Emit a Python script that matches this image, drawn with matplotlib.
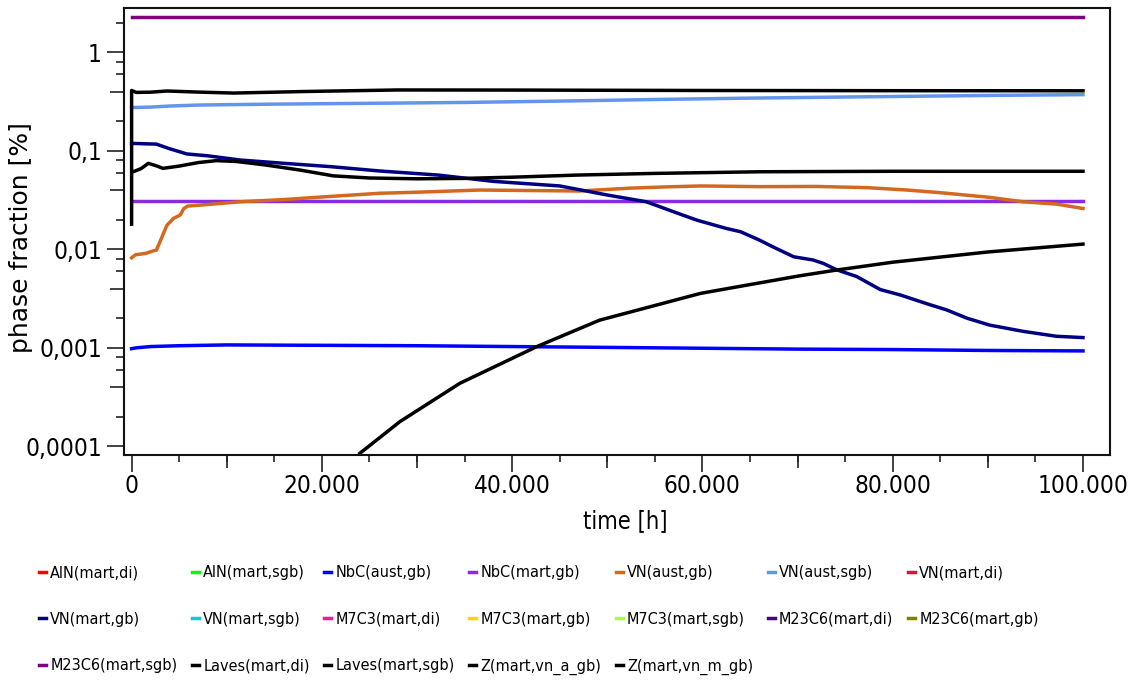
import os
import matplotlib
matplotlib.use("Agg")
import matplotlib.pyplot as plt
from matplotlib import font_manager as fm
from matplotlib.ticker import FixedLocator, FuncFormatter, NullFormatter


def narrow_font_file():
    """Return a regular-weight narrow/condensed sans font file if one is installed."""
    prefs = ["liberationsansnarrow-regular", "dejavusanscondensed.ttf",
             "condensed-regular", "narrow-regular", "semicondensed-regular"]
    files = sorted({f.fname for f in fm.fontManager.ttflist})
    for key in prefs:
        for fn in files:
            if key in os.path.basename(fn).lower():
                return fn
    return None


NARROW_FILE = narrow_font_file()


def narrow(size):
    if NARROW_FILE:
        return fm.FontProperties(fname=NARROW_FILE, size=size)
    return fm.FontProperties(family="DejaVu Sans", size=size * 0.9)


# ---- series (time in h, phase fraction in %) ----
labels = [
    "AlN(mart,di)", "AlN(mart,sgb)", "NbC(aust,gb)", "NbC(mart,gb)", "VN(aust,gb)",
    "VN(aust,sgb)", "VN(mart,di)", "VN(mart,gb)", "VN(mart,sgb)", "M7C3(mart,di)",
    "M7C3(mart,gb)", "M7C3(mart,sgb)", "M23C6(mart,di)", "M23C6(mart,gb)",
    "M23C6(mart,sgb)", "Laves(mart,di)", "Laves(mart,sgb)", "Z(mart,vn_a_gb)",
    "Z(mart,vn_m_gb)",
]
colors = [
    "#FF0000", "#00FF00", "#0000FF", "#8A2BE2", "#D2691E",
    "#6495ED", "#DC143C", "#000080", "#00CED1", "#FF1493",
    "#FFD700", "#ADFF2F", "#4B0082", "#808000",
    "#800080", "#000000", "#000000", "#000000",
    "#000000",
]

t_nbc_aust = [0, 500, 2000, 5000, 10000, 20000, 30000, 40000, 50000, 60000, 70000,
              80000, 90000, 100000]
v_nbc_aust = [0.00098, 0.001, 0.00103, 0.00105, 0.00107, 0.00106, 0.00105, 0.00103,
              0.00101, 0.00099, 0.00097, 0.00096, 0.00094, 0.00093]

t_nbc_mart = [0, 100000]
v_nbc_mart = [0.031, 0.031]

t_vn_aust_gb = [0, 400, 1500, 2200, 2600, 3200, 3700, 4400, 5100, 5500, 5900, 8000,
                11400, 16000, 20000, 26100, 30000, 36600, 42000, 47100, 52400, 56000,
                59800, 66000, 72000, 77300, 81500, 85000, 90200, 93700, 97200, 100000]
v_vn_aust_gb = [0.0082, 0.0088, 0.0091, 0.0096, 0.0098, 0.0134, 0.0175, 0.0206, 0.0223,
                0.026, 0.0275, 0.0285, 0.0304, 0.032, 0.034, 0.0371, 0.038, 0.040,
                0.0395, 0.0391, 0.0418, 0.043, 0.044, 0.0433, 0.0435, 0.0423, 0.040,
                0.0376, 0.0337, 0.0304, 0.0288, 0.026]

t_vn_aust_sgb = [0, 2000, 4000, 7200, 15000, 27000, 35000, 45000, 55000, 65000, 75000,
                 82000, 90000, 100000]
v_vn_aust_sgb = [0.275, 0.278, 0.285, 0.292, 0.298, 0.305, 0.31, 0.32, 0.332, 0.343,
                 0.352, 0.358, 0.365, 0.372]

t_vn_mart_gb = [0, 2600, 4000, 5800, 8000, 11400, 16000, 21000, 26100, 32200, 38000,
                45000, 50000, 54100, 57000, 59400, 62500, 64000, 66000, 67400, 69600,
                71600, 72700, 74100, 76200, 78700, 80800, 83600, 85700, 87800, 90200,
                93700, 97200, 100000]
v_vn_mart_gb = [0.119, 0.117, 0.105, 0.093, 0.089, 0.0807, 0.0747, 0.069, 0.0624,
                0.0568, 0.049, 0.044, 0.0356, 0.0304, 0.024, 0.0198, 0.0163, 0.0151,
                0.0124, 0.0106, 0.0084, 0.0078, 0.0072, 0.0062, 0.0053, 0.0039, 0.00344,
                0.0028, 0.00242, 0.002, 0.0017, 0.00147, 0.00131, 0.00127]

t_m23c6_sgb = [0, 100000]
v_m23c6_sgb = [2.27, 2.27]

t_laves_di = [0, 0, 500, 2000, 3700, 7000, 10700, 18000, 28000, 40000, 60000, 80000,
              100000]
v_laves_di = [0.018, 0.41, 0.392, 0.394, 0.405, 0.395, 0.386, 0.40, 0.415, 0.414, 0.41,
              0.408, 0.407]

t_laves_sgb = [100, 1000, 1750, 2500, 3300, 5000, 7000, 8900, 11000, 14000, 17700,
               21200, 25000, 30000, 35000, 40000, 47000, 55000, 66000, 80000, 100000]
v_laves_sgb = [0.061, 0.066, 0.0746, 0.071, 0.0664, 0.070, 0.076, 0.0795, 0.078, 0.072,
               0.0638, 0.0557, 0.053, 0.052, 0.0525, 0.054, 0.0568, 0.059, 0.0613,
               0.062, 0.062]

t_z_a = [24000, 28200, 34500, 42600, 49200, 59800, 63900, 70300, 74100, 80000, 90000,
         100000]
v_z_a = [8.5e-5, 1.78e-4, 4.36e-4, 1.03e-3, 1.91e-3, 3.57e-3, 4.2e-3, 5.4e-3, 6.16e-3,
         7.4e-3, 9.4e-3, 0.0113]

empty = ([], [])
series = {
    "AlN(mart,di)": empty,
    "AlN(mart,sgb)": empty,
    "NbC(aust,gb)": (t_nbc_aust, v_nbc_aust),
    "NbC(mart,gb)": (t_nbc_mart, v_nbc_mart),
    "VN(aust,gb)": (t_vn_aust_gb, v_vn_aust_gb),
    "VN(aust,sgb)": (t_vn_aust_sgb, v_vn_aust_sgb),
    "VN(mart,di)": empty,
    "VN(mart,gb)": (t_vn_mart_gb, v_vn_mart_gb),
    "VN(mart,sgb)": empty,
    "M7C3(mart,di)": empty,
    "M7C3(mart,gb)": empty,
    "M7C3(mart,sgb)": empty,
    "M23C6(mart,di)": empty,
    "M23C6(mart,gb)": empty,
    "M23C6(mart,sgb)": (t_m23c6_sgb, v_m23c6_sgb),
    "Laves(mart,di)": (t_laves_di, v_laves_di),
    "Laves(mart,sgb)": (t_laves_sgb, v_laves_sgb),
    "Z(mart,vn_a_gb)": (t_z_a, v_z_a),
    "Z(mart,vn_m_gb)": empty,
}

# ---- figure ----
W, H = 1131, 684
fig = plt.figure(figsize=(W / 100, H / 100), dpi=100)
L, R, T, B = 124, 1110, 8, 455
ax = fig.add_axes([L / W, 1 - B / H, (R - L) / W, (B - T) / H])

handles = []
for lab, col in zip(labels, colors):
    t, v = series[lab]
    ln, = ax.plot(t, v, color=col, lw=2.5, label=lab, solid_joinstyle="round")
    handles.append(ln)

ax.set_yscale("log")
ax.set_ylim(8.16e-5, 2.82)
ax.set_xlim(-800, 102840)

TICK_SIZE = 17.5

# x ticks: labelled every 20.000 h, medium every 10.000 h, small every 5.000 h
ax.xaxis.set_major_locator(FixedLocator([0, 20000, 40000, 60000, 80000, 100000]))
ax.xaxis.set_minor_locator(FixedLocator([5000 * k for k in range(21)]))
ax.xaxis.set_major_formatter(FuncFormatter(lambda v, p: f"{int(round(v)):,}".replace(",", ".")))
ax.tick_params(axis="x", which="major", length=12, width=1.2, pad=2, colors="#222222")
ax.tick_params(axis="x", which="minor", length=5, width=1.2, colors="#222222")
secx = ax.secondary_xaxis("bottom")
secx.set_xticks([10000, 30000, 50000, 70000, 90000])
secx.xaxis.set_major_formatter(NullFormatter())
secx.tick_params(length=9, width=1.2, colors="#222222")
secx.spines["bottom"].set_visible(False)

# y ticks: decades, with small marks at 2, 6, 8 and a medium mark at 4
decades = [1e-4, 1e-3, 1e-2, 1e-1, 1]
ax.yaxis.set_major_locator(FixedLocator(decades))
ax.yaxis.set_minor_locator(FixedLocator([m * d for d in [1e-5] + decades for m in (2, 6, 8)]))
ax.yaxis.set_major_formatter(FuncFormatter(lambda v, p: f"{v:g}".replace(".", ",")))
ax.yaxis.set_minor_formatter(NullFormatter())
ax.tick_params(axis="y", which="major", length=12, width=1.2, pad=4, colors="#222222")
ax.tick_params(axis="y", which="minor", length=6, width=1.2, colors="#222222")
secy = ax.secondary_yaxis("left")
secy.set_yticks([4 * d for d in [1e-5] + decades])
secy.yaxis.set_major_formatter(NullFormatter())
secy.yaxis.set_minor_locator(FixedLocator([]))
secy.tick_params(length=10, width=1.2, colors="#222222")
secy.spines["left"].set_visible(False)

for lbl in ax.get_xticklabels() + ax.get_yticklabels():
    lbl.set_fontproperties(narrow(TICK_SIZE))
    lbl.set_color("black")

for sp in ax.spines.values():
    sp.set_linewidth(1.5)
    sp.set_color("#111111")

ax.set_xlabel("time [h]", fontproperties=narrow(17))
ax.xaxis.set_label_coords((625 - L) / (R - L), -(509 - B) / (B - T))
ax.set_ylabel("phase fraction [%]", family="DejaVu Sans", fontsize=18)
ax.yaxis.set_label_coords(-(L - 33) / (R - L), (B - 238) / (B - T))

# legend laid out row by row, seven entries per row, sized to span the figure width
ncol = 7
order = [r * ncol + c for c in range(ncol) for r in range(3) if r * ncol + c < len(labels)]
LEG_LEFT, LEG_RIGHT, ROW1, ROW_PITCH = 39, 1040, 573, 47


def make_legend(size, spacing, top):
    return fig.legend([handles[i] for i in order], [labels[i] for i in order],
                      ncol=ncol, loc="upper left",
                      bbox_to_anchor=(LEG_LEFT / W, 1 - top / H), frameon=False,
                      borderpad=0, borderaxespad=0, handlelength=0.45,
                      handletextpad=0.25, columnspacing=0.9, labelspacing=spacing,
                      prop=narrow(size))


# first pass: find the font size that gives the wanted width
leg = make_legend(16, 0.0, ROW1)
fig.canvas.draw()
width = leg.get_window_extent().width
leg.remove()
leg_size = 16 * (LEG_RIGHT - LEG_LEFT) / width

# second pass: measure the row height, then set the spacing for the wanted row pitch
leg = make_legend(leg_size, 0.0, ROW1)
fig.canvas.draw()
row_h = leg.get_window_extent().height / 3
leg.remove()
fs_px = leg_size * 100 / 72
spacing = (ROW_PITCH - row_h) / fs_px
leg = make_legend(leg_size, spacing, ROW1 - row_h / 2)

fig.savefig("out.png", dpi=100, facecolor="white")
